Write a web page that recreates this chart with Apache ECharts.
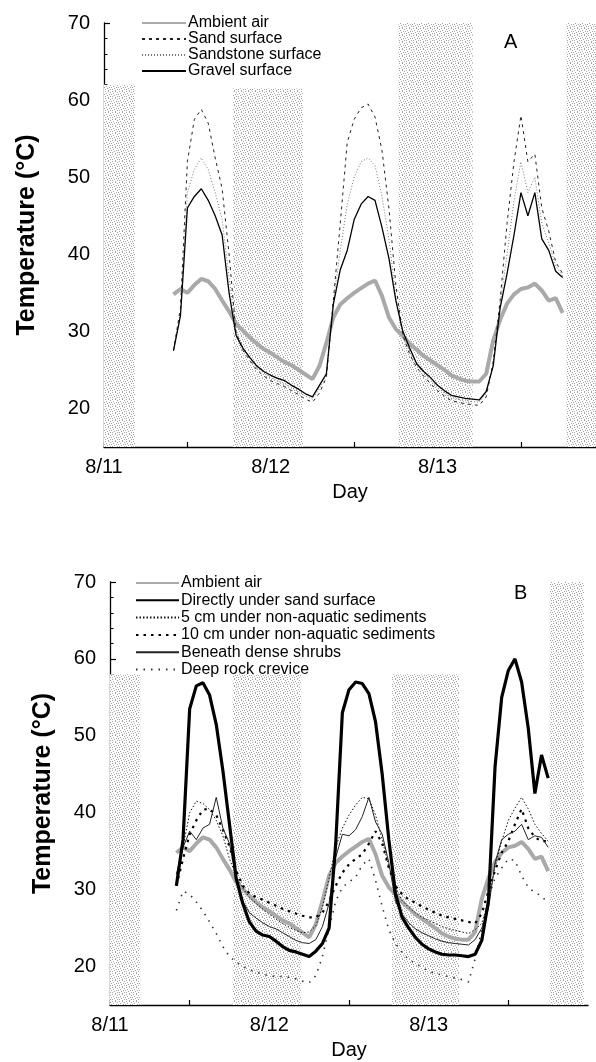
<!DOCTYPE html>
<html><head><meta charset="utf-8">
<script src="https://cdn.jsdelivr.net/npm/echarts@6/dist/echarts.min.js"></script>
<style>html,body{margin:0;padding:0;background:#fff}#c{width:596px;height:1062px}</style>
</head><body><div id="c"></div>
<script>
// ---- data (hourly readings, first reading at START_HOUR hours after 8/11 00:00) ----
const START_HOUR = 10;
const dayLabels = ['8/11', '8/12', '8/13'];
const yLabelValues = [20, 30, 40, 50, 60, 70];
const yMinorValues = [16, 18, 22, 24, 26, 28, 32, 34, 36, 38, 42, 44, 46, 48, 52, 54, 56, 58, 62, 64, 66, 68];

const ambientAir = [34.8,35.5,35.0,36.0,36.8,36.5,35.5,34.0,32.6,31.0,30.1,29.2,28.4,27.7,27.2,26.6,26.0,25.6,25.0,24.4,23.8,25.5,28.5,31.8,33.5,34.3,35.0,35.6,36.2,36.6,34.6,31.8,30.3,29.4,28.4,27.6,26.8,26.2,25.6,25.0,24.3,23.9,23.6,23.5,23.5,24.5,28.8,31.5,33.6,34.8,35.5,35.7,36.2,35.3,34.0,34.3,32.4];
const gravelSurface = [27.5,32.0,46.0,47.5,48.5,47.0,45.0,42.5,35.0,29.5,27.8,26.6,25.5,24.8,24.3,23.9,23.6,23.0,22.5,21.9,21.5,23.0,24.5,33.5,38.0,40.5,44.5,46.5,47.5,47.0,43.5,39.5,34.0,30.0,27.8,25.8,24.8,24.0,23.0,22.3,21.7,21.5,21.3,21.2,21.1,22.2,25.5,33.0,37.5,42.5,48.0,45.0,48.0,42.0,40.5,37.8,37.0];
const sandSurface = [27.5,33.0,52.0,57.5,58.8,57.0,52.5,48.5,40.0,29.8,27.5,26.2,25.0,24.2,23.6,23.2,22.8,22.3,21.8,21.2,20.8,22.0,24.0,34.0,44.0,54.5,57.5,59.0,59.5,57.8,53.5,46.0,36.0,29.5,27.0,25.3,24.2,23.2,22.3,21.6,21.0,20.8,20.6,20.5,20.4,21.5,26.0,34.0,44.0,52.0,58.0,52.0,53.0,46.0,43.0,39.0,37.5];
const sandstoneSurface = [27.5,32.5,48.0,51.0,52.5,51.0,48.0,44.5,37.0,30.0,27.8,26.5,25.3,24.6,24.0,23.6,23.2,22.7,22.2,21.6,21.2,22.6,24.3,33.8,40.5,46.5,50.0,52.0,52.5,51.5,47.5,42.0,34.5,29.3,27.3,25.6,24.6,23.7,22.7,22.0,21.4,21.2,21.0,20.9,20.8,21.9,25.8,33.5,40.0,47.0,52.0,48.0,50.0,44.0,41.5,38.5,37.2];
const underSand = [30.5,36.5,53.5,56.5,56.9,55.3,51.5,45.5,38.5,31.5,28.2,25.8,24.6,24.1,23.9,23.3,22.6,22.1,21.9,21.6,21.3,22.0,23.0,25.0,36.0,53.0,56.0,57.0,56.8,55.5,51.8,45.0,36.5,29.5,26.4,25.0,23.8,22.9,22.3,21.9,21.6,21.5,21.5,21.4,21.3,21.6,23.4,28.5,46.0,55.0,58.5,60.0,57.0,51.0,42.5,47.5,44.5];
const fiveCm = [31.0,35.5,40.0,41.5,41.2,40.4,39.0,37.0,34.0,31.8,30.2,29.0,28.2,27.5,26.8,26.2,25.6,25.1,24.7,24.4,24.5,25.3,27.7,31.5,35.5,38.0,39.7,41.0,42.0,41.8,39.7,36.5,33.0,30.3,28.6,27.7,27.0,26.4,26.0,25.6,25.2,24.9,24.7,24.5,24.3,24.8,25.6,28.5,33.0,36.3,39.0,40.6,42.0,40.5,38.5,37.3,36.3];
const tenCm = [30.5,34.0,37.2,39.0,40.4,40.5,39.7,37.8,35.6,32.5,30.5,29.5,29.0,28.7,28.3,27.9,27.5,27.2,26.9,26.6,26.4,26.4,27.0,28.5,30.5,32.2,33.3,34.0,34.6,36.0,37.6,36.0,32.8,30.5,29.4,28.7,28.3,27.8,27.4,27.0,26.6,26.4,26.2,26.0,25.8,25.6,26.9,29.8,32.5,34.8,36.3,38.5,40.5,38.0,36.8,36.3,36.3];
const denseShrubs = [32.0,35.5,37.6,36.5,38.0,38.5,42.0,38.0,36.0,31.5,28.5,27.0,26.3,25.7,25.2,24.9,24.4,23.9,23.4,23.1,23.0,23.5,25.2,28.2,34.2,37.2,37.0,37.8,39.5,42.0,38.8,37.2,33.5,28.5,26.8,25.7,24.9,24.4,24.0,23.6,23.3,23.1,23.0,22.9,22.8,23.5,25.0,27.5,33.5,36.5,37.2,37.6,38.5,36.5,37.0,36.8,35.5];
const rockCrevice = [27.3,29.8,29.4,28.4,27.2,25.8,24.3,22.6,21.3,20.6,20.0,19.6,19.3,19.0,18.8,18.7,18.7,18.6,18.4,18.1,17.9,18.8,21.3,25.0,28.5,30.3,31.0,31.6,33.2,34.0,31.2,27.8,24.8,23.0,21.8,20.9,20.4,19.9,19.4,19.1,18.9,18.7,18.5,18.3,18.0,21.0,24.8,29.0,31.5,32.8,34.0,33.8,31.8,30.3,29.6,29.2,28.2];

// night shading: [start day, end day, top temperature]
const nightA = [[0.0, 0.186, 62], [0.773, 1.193, 61.5], [1.766, 2.21, 70], [2.773, 2.95, 70]];
const nightB = [[0.0, 0.19, 58], [0.77, 1.2, 58], [1.77, 2.19, 58], [2.76, 2.975, 70]];

// ---- build ----
const FONT = '"Liberation Sans", Arial, Helvetica, sans-serif';
const toPairs = arr => arr.map((v, i) => [(START_HOUR + i) / 24, v]);

function stipple() {
  const c = document.createElement('canvas');
  c.width = 7; c.height = 7;
  const g = c.getContext('2d');
  g.fillStyle = '#ffffff'; g.fillRect(0, 0, 7, 7);
  g.fillStyle = '#a4a4a4';
  const pts = [[0,0],[3,0],[5,1],[1,2],[4,3],[6,3],[2,4],[0,5],[5,5],[3,6]];
  pts.forEach(p => g.fillRect(p[0], p[1], 1, 1));
  return c;
}
const bandFill = { image: stipple(), repeat: 'repeat' };
const bands = list => ({
  silent: true,
  itemStyle: { color: bandFill, opacity: 1 },
  data: list.map(b => [{ xAxis: b[0], yAxis: 15 }, { xAxis: b[1], yAxis: b[2] }])
});

function xAxisOf(gi, max, gap) {
  return {
    gridIndex: gi, type: 'value', min: 0, max: max, interval: 0.5,
    axisLine: { show: true, onZero: false, lineStyle: { color: '#000', width: 1.3 } },
    axisTick: { show: true, inside: true, length: 5, lineStyle: { color: '#000', width: 1.2 } },
    axisLabel: {
      margin: 10, fontSize: 20, color: '#000', fontFamily: FONT, showMaxLabel: false,
      formatter: v => (Number.isInteger(v) && v < dayLabels.length) ? dayLabels[v] : ''
    },
    splitLine: { show: false },
    name: 'Day', nameLocation: 'middle', nameGap: gap,
    nameTextStyle: { fontSize: 20, color: '#000', fontFamily: FONT }
  };
}
function yMajor(gi, gap) {
  return {
    gridIndex: gi, type: 'value', min: 15, max: 70, position: 'left',
    axisLine: { show: true, lineStyle: { color: '#000', width: 1.3 } },
    axisTick: { show: true, inside: true, length: 6, customValues: yLabelValues, lineStyle: { color: '#000', width: 1.2 } },
    axisLabel: { customValues: yLabelValues, margin: 14, fontSize: 20, color: '#000', fontFamily: FONT },
    splitLine: { show: false },
    name: 'Temperature (°C)', nameLocation: 'middle', nameGap: gap,
    nameTextStyle: { fontSize: 25, fontWeight: 'bold', color: '#000', fontFamily: FONT }
  };
}
function yMinor(gi) {
  return {
    gridIndex: gi, type: 'value', min: 15, max: 70, position: 'left',
    axisLine: { show: false },
    axisTick: { show: true, inside: true, length: 3.5, customValues: yMinorValues, lineStyle: { color: '#000', width: 1 } },
    axisLabel: { show: false }, splitLine: { show: false }
  };
}
function line(name, data, xi, yi, color, width, type, extra) {
  return Object.assign({
    name, type: 'line', xAxisIndex: xi, yAxisIndex: yi, data: toPairs(data),
    symbol: 'none', showSymbol: false, smooth: false, animation: false,
    lineStyle: { color, width, type: type || 'solid' }, itemStyle: { color }
  }, extra || {});
}
const legendBase = {
  orient: 'vertical', itemWidth: 44, itemHeight: 3, padding: 0,
  itemStyle: { color: 'rgba(0,0,0,0)', borderColor: 'rgba(0,0,0,0)', borderWidth: 0, opacity: 0 },
  textStyle: { fontSize: 16, color: '#000', fontFamily: FONT, padding: [0, 0, 0, -3] }
};

const AMB = '#a9a9a9';
const option = {
  animation: false,
  backgroundColor: '#ffffff',
  textStyle: { fontFamily: FONT },
  grid: [
    { left: 104, top: 23, width: 492, height: 424 },
    { left: 110, top: 582, width: 478, height: 423 }
  ],
  title: [
    { text: 'A', left: 499, top: 27, textStyle: { fontSize: 20, fontWeight: 'normal', color: '#000', fontFamily: FONT } },
    { text: 'B', left: 509, top: 578, textStyle: { fontSize: 20, fontWeight: 'normal', color: '#000', fontFamily: FONT } }
  ],
  legend: [
    Object.assign({}, legendBase, {
      left: 141, top: 15, itemGap: 0,
      data: ['Ambient air', 'Sand surface', 'Sandstone surface', 'Gravel surface']
    }),
    Object.assign({}, legendBase, {
      left: 135, top: 575, itemGap: 1.3, itemWidth: 43,
      data: ['Ambient air', 'Directly under sand surface', '5 cm under non-aquatic sediments',
             '10 cm under non-aquatic sediments', 'Beneath dense shrubs', 'Deep rock crevice']
    })
  ],
  xAxis: [xAxisOf(0, 2.95, 35), xAxisOf(1, 3, 35)],
  yAxis: [yMajor(0, 64), yMinor(0), yMajor(1, 54), yMinor(1)],
  series: [
    line('Ambient air', ambientAir, 0, 0, AMB, 4, 'solid', { markArea: bands(nightA), z: 2 }),
    line('Sandstone surface', sandstoneSurface, 0, 0, '#777', 1, [1, 2]),
    line('Sand surface', sandSurface, 0, 0, '#222', 1, [3, 4]),
    line('Gravel surface', gravelSurface, 0, 0, '#000', 1.3),
    line('Ambient air', ambientAir, 1, 2, AMB, 4, 'solid', { markArea: bands(nightB), z: 2 }),
    line('Deep rock crevice', rockCrevice, 1, 2, '#333', 1.6, [1.5, 6]),
    line('10 cm under non-aquatic sediments', tenCm, 1, 2, '#000', 2.2, [2.5, 5]),
    line('5 cm under non-aquatic sediments', fiveCm, 1, 2, '#111', 1, [1.5, 2]),
    line('Beneath dense shrubs', denseShrubs, 1, 2, '#222', 1),
    line('Directly under sand surface', underSand, 1, 2, '#000', 3.2)
  ]
};
const chart = echarts.init(document.getElementById('c'), null, { renderer: 'canvas' });
chart.setOption(option);
</script>
</body></html>
